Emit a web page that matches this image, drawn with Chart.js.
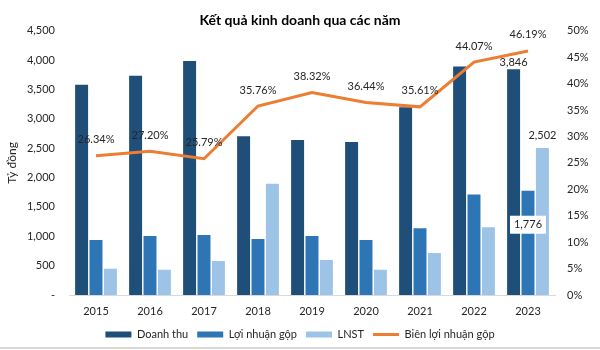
<!DOCTYPE html>
<html lang="vi">
<head>
<meta charset="utf-8">
<title>Kết quả kinh doanh qua các năm</title>
<script src="https://cdn.jsdelivr.net/npm/chart.js@4.4.1/dist/chart.umd.min.js"></script>
<style>
  body { margin: 0; background: #fff; }
  #khung { position: relative; width: 600px; height: 350px; }
  #vien { position: absolute; left: 0; right: 0; top: 347px; height: 2px; background: #d9d9d9; }
</style>
</head>
<body>
<div id="khung">
  <canvas id="bieuDo" width="600" height="350"></canvas>
  <div id="vien"></div>
</div>
<script>
// Số liệu (tỷ đồng và %)
const nam = ["2015", "2016", "2017", "2018", "2019", "2020", "2021", "2022", "2023"];
const doanhThu = [3580, 3733, 3986, 2705, 2638, 2604, 3199, 3890, 3846];
const loiNhuanGop = [935, 1003, 1020, 952, 1003, 935, 1138, 1711, 1776];
const lnst = [447, 430, 581, 1896, 598, 430, 716, 1155, 2502];
const bienLoiNhuanGop = [26.34, 27.2, 25.79, 35.76, 38.32, 36.44, 35.61, 44.07, 46.19];

const FONT = "Lato, 'Liberation Sans', sans-serif";
const MAU_CHU = "#262626";

// Vẽ nhãn số liệu: % trên đường, giá trị cho các cột năm cuối
const nhanDuLieu = {
  id: "nhanDuLieu",
  afterDatasetsDraw(chart) {
    const ctx = chart.ctx;
    ctx.save();
    ctx.font = "11px " + FONT;
    ctx.fillStyle = MAU_CHU;
    ctx.textAlign = "center";
    ctx.textBaseline = "middle";

    chart.getDatasetMeta(3).data.forEach((p, i) => {
      ctx.fillText(bienLoiNhuanGop[i].toFixed(2) + "%", p.x, p.y - 16);
    });

    const cuoi = nam.length - 1;
    // [dataset, lệch y so với đỉnh cột, có nền trắng]
    [[0, -7, false], [1, 34, true], [2, -13, false]].forEach(([ds, dy, nen]) => {
      const cot = chart.getDatasetMeta(ds).data[cuoi];
      const chu = chart.data.datasets[ds].data[cuoi].toLocaleString("en-US");
      const y = cot.y + dy;
      if (nen) {
        const w = ctx.measureText(chu).width + 8;
        ctx.fillStyle = "#fff";
        ctx.fillRect(cot.x - w / 2, y - 9, w, 18);
        ctx.fillStyle = MAU_CHU;
      }
      ctx.fillText(chu, cot.x, y);
    });
    ctx.restore();
  },
};

new Chart(document.getElementById("bieuDo"), {
  type: "bar",
  data: {
    labels: nam,
    datasets: [
      { label: "Doanh thu", data: doanhThu, backgroundColor: "#1f4e79", yAxisID: "y", order: 1 },
      { label: "Lợi nhuận gộp", data: loiNhuanGop, backgroundColor: "#2e75b6", yAxisID: "y", order: 1 },
      { label: "LNST", data: lnst, backgroundColor: "#9dc3e6", yAxisID: "y", order: 1 },
      {
        type: "line",
        label: "Biên lợi nhuận gộp",
        data: bienLoiNhuanGop,
        borderColor: "#ed7d31",
        backgroundColor: "#ed7d31",
        borderWidth: 3,
        pointRadius: 0,
        tension: 0,
        yAxisID: "y1",
        order: 0,
      },
    ],
  },
  options: {
    responsive: false,
    animation: false,
    layout: { padding: { left: 0, right: 0, top: 0, bottom: 0 } },
    datasets: { bar: { categoryPercentage: 0.8, barPercentage: 0.9 } },
    plugins: {
      title: {
        display: true,
        text: "Kết quả kinh doanh qua các năm",
        color: "#000",
        font: { family: FONT, size: 14, weight: "bold" },
        padding: { top: 12, bottom: 2 },
      },
      legend: {
        position: "bottom",
        labels: {
          usePointStyle: true,
          pointStyleWidth: 26,
          boxHeight: 6,
          padding: 9,
          color: MAU_CHU,
          font: { family: FONT, size: 11 },
          generateLabels(chart) {
            return chart.data.datasets.map((d, i) => ({
              text: d.label,
              datasetIndex: i,
              fillStyle: d.type === "line" ? d.borderColor : d.backgroundColor,
              strokeStyle: d.type === "line" ? d.borderColor : d.backgroundColor,
              lineWidth: d.type === "line" ? 3 : 0,
              pointStyle: d.type === "line" ? "line" : "rect",
              fontColor: MAU_CHU,
              hidden: false,
            }));
          },
        },
      },
      tooltip: { enabled: false },
    },
    scales: {
      x: {
        grid: { display: false, drawTicks: false },
        border: { color: "#d9d9d9" },
        ticks: { color: MAU_CHU, font: { family: FONT, size: 11 }, padding: 10 },
        afterFit: (s) => { s.height = 25; },
      },
      y: {
        position: "left",
        min: 0,
        max: 4500,
        grid: { display: false, drawTicks: false },
        border: { display: false },
        ticks: {
          stepSize: 500,
          padding: 14,
          color: MAU_CHU,
          font: { family: FONT, size: 11 },
          callback: (v) => (v === 0 ? "-" : v.toLocaleString("en-US")),
        },
        title: {
          display: true,
          text: "Tỷ đồng",
          color: MAU_CHU,
          font: { family: FONT, size: 12 },
          padding: { top: 5, bottom: 0 },
        },
        afterFit: (s) => { s.width = 69; },
      },
      y1: {
        position: "right",
        min: 0,
        max: 50,
        grid: { display: false, drawTicks: false },
        border: { display: false },
        ticks: {
          stepSize: 5,
          padding: 12,
          color: MAU_CHU,
          font: { family: FONT, size: 11 },
          callback: (v) => v + "%",
        },
        afterFit: (s) => { s.width = 45; },
      },
    },
  },
  plugins: [nhanDuLieu],
});
</script>
</body>
</html>
